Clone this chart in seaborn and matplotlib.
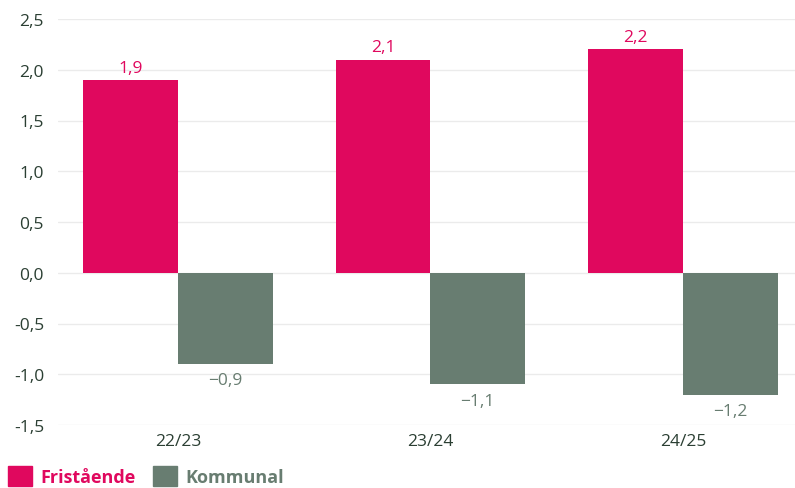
import matplotlib
matplotlib.use("Agg")
import matplotlib.pyplot as plt
import seaborn as sns
import pandas as pd
from matplotlib.patches import Patch

categories = ["22/23", "23/24", "24/25"]
fristaende = [1.9, 2.1, 2.2]
kommunal = [-0.9, -1.1, -1.2]
series_names = ["Fristående", "Kommunal"]
yticks = [-1.5, -1.0, -0.5, 0.0, 0.5, 1.0, 1.5, 2.0, 2.5]

PINK = "#E0085E"
GREY = "#687D71"
TICK = "#2B3F33"

sns.set_theme(style="white")
plt.rcParams["font.family"] = ["Open Sans", "DejaVu Sans"]

df = pd.DataFrame({
    "cat": categories * 2,
    "val": fristaende + kommunal,
    "serie": [series_names[0]] * 3 + [series_names[1]] * 3,
})

fig = plt.figure(figsize=(7.95, 4.89), dpi=100)
ax = fig.add_axes([58 / 795, 63 / 489, 1 - 58 / 795, (426 - 20) / 489])
sns.barplot(data=df, x="cat", y="val", hue="serie", palette=[PINK, GREY],
            width=0.75, saturation=1, ax=ax, legend=False, errorbar=None,
            linewidth=0, edgecolor="none")

ax.set_ylim(-1.5, 2.5)
ax.set_xlim(-0.475, 2.444)
ax.set_yticks(yticks)
ax.set_yticklabels([f"{v:.1f}".replace(".", ",") for v in yticks])
ax.set_xlabel("")
ax.set_ylabel("")
for s in ax.spines.values():
    s.set_visible(False)
ax.grid(axis="y", color="#EBEBEB", linewidth=1)
ax.set_axisbelow(True)
ax.tick_params(axis="both", length=0, labelsize=12.5, colors=TICK)
ax.tick_params(axis="y", pad=10)
ax.tick_params(axis="x", pad=6)

for cont, col in zip(ax.containers, [PINK, GREY]):
    labels = [f"{b.get_height():.1f}".replace(".", ",").replace("-", "\u2212") for b in cont]
    pad = 3 if col == PINK else 6
    ax.bar_label(cont, labels=labels, color=col, fontsize=12.5, padding=pad)

handles = [Patch(color=PINK), Patch(color=GREY)]
leg = fig.legend(handles, series_names, loc="lower left", bbox_to_anchor=(-0.003, -0.018),
                 ncol=2, frameon=False, handlelength=1.3, handleheight=1.3,
                 handletextpad=0.45, columnspacing=1.0, borderaxespad=0.2,
                 prop={"weight": "bold", "size": 13})
for t, c in zip(leg.get_texts(), [PINK, GREY]):
    t.set_color(c)

fig.savefig("out.png", dpi=100)
